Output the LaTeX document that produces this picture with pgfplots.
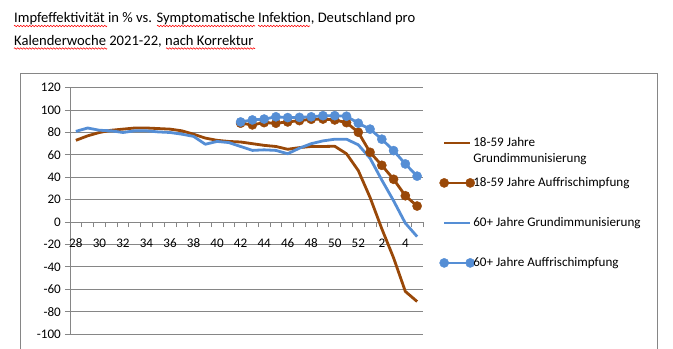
\documentclass[border=0pt]{standalone}
\usepackage{pgfplots}
\pgfplotsset{compat=1.18}
\usepackage{pgfplotstable}
\usetikzlibrary{decorations.pathmorphing}
\usepackage{fontspec}
\setmainfont{Carlito}
\definecolor{gridgray}{RGB}{134,134,134}
\definecolor{myBrown}{RGB}{153,72,8}
\definecolor{myBlue}{RGB}{85,142,213}

\pgfplotstableread{
x y
0 73
1 77
2 80
3 82
4 83
5 84
6 84
7 83.5
8 83
9 81.5
10 78.5
11 75
12 73
13 72
14 71.5
15 70
16 68.5
17 67.5
18 65
19 66.5
20 67.5
21 67.5
22 67.7
23 61
24 46
25 22
26 -6
27 -32
28 -62
29 -71
}\dataA

\pgfplotstableread{
x y
14 88.3
15 86.8
16 88.8
17 88.3
18 89.4
19 90.6
20 91.8
21 92
22 91.2
23 88.8
24 80.2
25 62.3
26 50.7
27 38.2
28 23.5
29 14.3
}\dataB

\pgfplotstableread{
x y
0 81
1 84
2 82
3 81.5
4 80
5 81.5
6 81.5
7 80.5
8 80
9 78.5
10 76.5
11 69.5
12 72
13 71
14 67.5
15 64
16 64.5
17 64
18 61
19 66
20 70
21 72.5
22 74
23 74
24 69
25 57
26 37.5
27 19
28 -1
29 -13
}\dataC

\pgfplotstableread{
x y
14 89.4
15 91.2
16 92
17 94
18 93.3
19 93.5
20 94
21 95
22 95
23 94.5
24 88.3
25 83
26 74
27 63.8
28 51.9
29 41
}\dataD

\begin{document}
\begin{tikzpicture}
\useasboundingbox (0,0) rectangle (673bp,-349bp);
\draw[gridgray, line width=0.8bp] (20bp,-355bp) -- (20bp,-73bp) -- (657bp,-73bp) -- (657bp,-355bp);
\node[anchor=base west, inner sep=0pt, font=\fontsize{14.6bp}{17bp}\selectfont] at (14bp,-22.7bp) {Impfeffektivität in \% vs. Symptomatische Infektion, Deutschland pro};
\node[anchor=base west, inner sep=0pt, font=\fontsize{14.6bp}{17bp}\selectfont] at (14bp,-45bp) {Kalenderwoche 2021-22, nach Korrektur};
\begin{scope}[red, line width=0.6bp, decoration={zigzag, amplitude=0.8bp, segment length=3bp}]
\draw[decorate] (14bp,-26bp) -- (107bp,-26bp);
\draw[decorate] (157bp,-26bp) -- (255bp,-26bp);
\draw[decorate] (258bp,-26bp) -- (310bp,-26bp);
\draw[decorate] (14bp,-48.5bp) -- (107bp,-48.5bp);
\draw[decorate] (166bp,-48.5bp) -- (255bp,-48.5bp);
\end{scope}
\begin{axis}[
  at={(70bp,-334bp)}, anchor=south west,
  scale only axis, width=353bp, height=246.3bp,
  xmin=-0.5, xmax=29.5, ymin=-100, ymax=120,
  axis x line=middle, axis y line=left,
  axis line style={-, draw=gridgray, line width=0.8bp},
  every inner x axis line/.append style={-},
  every outer y axis line/.append style={-},
  hide obscured x ticks=false, hide obscured y ticks=false,
  ymajorgrids, grid style={gridgray, line width=0.8bp},
  ytick={-100,-80,...,120},
  yticklabels={-100,-80,-60,-40,-20,0,20,40,60,80,100,120},
  xtick={0,2,...,28},
  xticklabels={28,30,32,34,36,38,40,42,44,46,48,50,52,2,4},
  minor xtick={0.5,1.5,...,29.5},
  major x tick style={draw=none},
  minor x tick style={draw=gridgray, line width=0.8bp},
  major y tick style={draw=gridgray, line width=0.8bp},
  ytick align=outside, xtick align=outside,
  major tick length=5bp, minor tick length=5bp,
  tick label style={font=\fontsize{13.1bp}{15bp}\selectfont, text=black},
  yticklabel style={anchor=east, inner sep=0pt, xshift=-4bp},
  xticklabel style={anchor=base, inner sep=0pt, yshift=-20bp},
  clip=false,
  legend style={at={(1,1)}, anchor=north west, xshift=16.4bp, yshift=-49bp,
    draw=none, fill=none, inner sep=0pt, row sep=28bp, column sep=-1.5bp,
    font=\fontsize{13.1bp}{15bp}\selectfont,
    cells={anchor=west},
    nodes={inner sep=0pt, text height=10bp, text depth=2bp}},
  legend image code/.code={\draw[mark repeat=1,mark phase=1,#1] plot coordinates {(0bp,0bp) (26bp,0bp)};},
]
\addplot[myBrown, line width=2.8bp, line join=round, mark=none] table {\dataA};
\addlegendentry{\rlap{\raisebox{-15.5bp}[0pt][0pt]{Grundimmunisierung}}18-59 Jahre}
\addplot[myBrown, line width=2.8bp, line join=round, mark=*, mark size=4.6bp, mark options={solid, fill=myBrown, draw=myBrown, line width=0.4bp}] table {\dataB};
\addlegendentry{18-59 Jahre Auffrischimpfung}
\addplot[myBlue, line width=2.8bp, line join=round, mark=none] table {\dataC};
\addlegendentry{60+ Jahre Grundimmunisierung}
\addplot[myBlue, line width=2.8bp, line join=round, mark=*, mark size=4.6bp, mark options={solid, fill=myBlue, draw=myBlue, line width=0.4bp}] table {\dataD};
\addlegendentry{60+ Jahre Auffrischimpfung}
\end{axis}
\end{tikzpicture}
\end{document}
